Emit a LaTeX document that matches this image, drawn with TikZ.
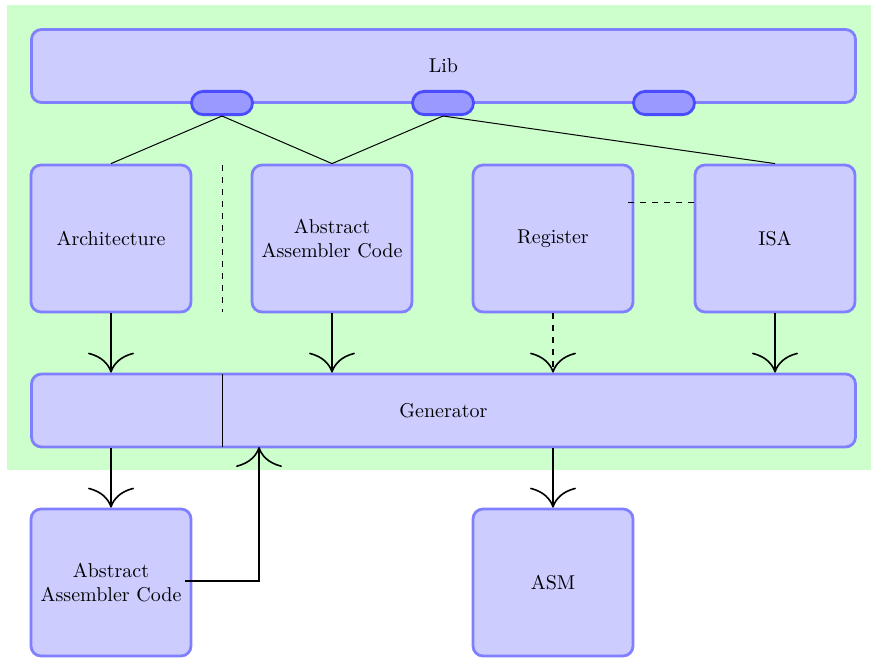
\documentclass[tikz,border=0pt]{standalone}
\usetikzlibrary{arrows.meta}
\begin{document}
\begin{tikzpicture}[x=0.5pt,y=-0.5pt,
  box/.style={draw=blue!50,fill=blue!20,line width=1.4pt,rounded corners=5pt,
    minimum width=80pt,minimum height=73.5pt,align=center,inner sep=2pt},
  wide/.style={draw=blue!50,fill=blue!20,line width=1.4pt,rounded corners=5pt,
    minimum width=412pt,minimum height=36.5pt},
  pill/.style={draw=blue!70,fill=blue!40,line width=1.4pt,rounded corners=5.8pt,
    minimum width=30.5pt,minimum height=11.6pt,inner sep=0pt},
  link/.style={line width=0.5pt},
  flow/.style={thick,-{Computer Modern Rightarrow[length=10pt,width=23pt]}}]
\useasboundingbox (0,0) rectangle (871,658);
% background panel
\fill[green!20] (7,5) rectangle (871,470);

% library bar with its three ports
\node[wide] (lib) at (443.5,66) {Lib};
\node[pill] (p1) at (222,103) {};
\node[pill] (p2) at (443,103) {};
\node[pill] (p3) at (664,103) {};

% component row
\node[box] (arch) at (111,238.5) {Architecture};
\node[box] (aac)  at (332,238.5) {Abstract\\Assembler Code};
\node[box] (reg)  at (553,238.5) {Register};
\node[box] (isa)  at (775,238.5) {ISA};

% generator
\node[wide] (gen) at (443.5,410.5) {Generator};
\coordinate (splitT) at (222,374);
\coordinate (splitB) at (222,447);
\draw[link] (splitT) -- (splitB);

% outputs
\node[box] (aac2) at (111,582.5) {Abstract\\Assembler Code};
\node[box] (asm)  at (553,582.5) {ASM};

% links from the library ports
\draw[link] (p1.south) -- (arch.north);
\draw[link] (p1.south) -- (aac.north);
\draw[link] (p2.south) -- (aac.north);
\draw[link] (p2.south) -- (isa.north);

% separators
\coordinate (sepT) at (222,165);
\coordinate (sepB) at (222,312);
\draw[link,dashed] (sepT) -- (sepB);
\coordinate (regR) at (628,202);
\coordinate (isaL) at (700,202);
\draw[link,dashed] (regR) -- (isaL);

% flows into the generator
\draw[flow] (arch.south) -- (arch.south |- gen.north);
\draw[flow] (aac.south) -- (aac.south |- gen.north);
\draw[flow,dashed] (reg.south) -- (reg.south |- gen.north);
\draw[flow] (isa.south) -- (isa.south |- gen.north);

% flows out of the generator
\draw[flow] (arch.south |- gen.south) -- (aac2.north);
\draw[flow] (asm.north |- gen.south) -- (asm.north);
\coordinate (back) at (185,581);
\coordinate (backUp) at (259,447);
\draw[flow] (back) -| (backUp);
\end{tikzpicture}
\end{document}
